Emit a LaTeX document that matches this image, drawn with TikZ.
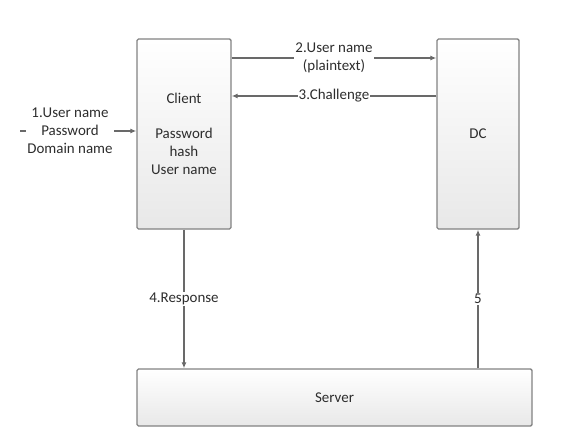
\documentclass[tikz,border=0pt]{standalone}
\usepackage{fontspec}
\setmainfont{Carlito}
\usepackage{xcolor}
\usepackage{tikz}
\usetikzlibrary{shapes,arrows,positioning,calc,arrows.meta}
\definecolor{linegray}{RGB}{105,105,105}
\definecolor{boxgray}{RGB}{130,130,130}
\definecolor{textgray}{RGB}{45,45,45}
\begin{document}
\begin{tikzpicture}[
      x=1bp, y=-1bp,
      box/.style={rectangle, draw=boxgray, line width=1.4pt, rounded corners=1.5pt, top color=white, bottom color=gray!18, align=center, text=textgray, font=\fontsize{15}{18}\selectfont},
      arrow/.style={-{Latex[length=6pt,width=5pt]}, draw=linegray, line width=1.3pt},
      lbl/.style={fill=white, inner sep=1pt, align=center, text=textgray, font=\fontsize{15}{18}\selectfont},
    ]
    \useasboundingbox (0,0) rectangle (572,438);
    \node [box, minimum width=94bp, minimum height=190bp] (client) at (184, 134) {Client\\[17pt]Password\\hash\\User name};
    \node [box, minimum width=82bp, minimum height=190bp] (dc) at (478, 134) {DC};
    \node [box, minimum width=395bp, minimum height=57bp] (server) at (334.5, 397.5) {Server};
    \coordinate (user) at (20, 131);
    \draw [arrow] (user) -- (client.west |- user) node [lbl, pos=0.43] {1.User name\\Password\\Domain name};
    \draw [arrow] (client.east |- 0,58) -- (dc.west |- 0,58) node [lbl, midway] {2.User name\\(plaintext)};
    \draw [arrow] (dc.west |- 0,96) -- (client.east |- 0,96) node [lbl, midway] {3.Challenge};
    \draw [arrow] (client.south) -- (server.north -| client.south) node [lbl, midway] {4.Response};
    \draw [arrow] (server.north -| dc.south) -- (dc.south) node [lbl, midway] {5};
  \end{tikzpicture}
\end{document}
